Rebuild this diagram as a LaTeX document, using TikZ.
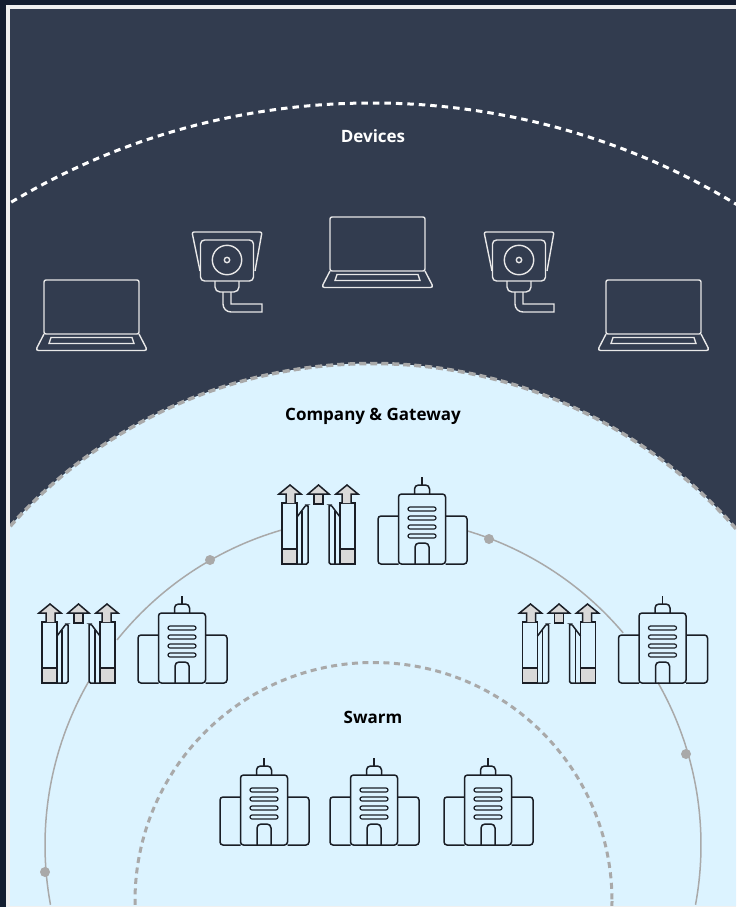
\documentclass[tikz,border=0pt]{standalone}
\usepackage{fontspec}
\setmainfont{Open Sans}
\usepackage{tikz}

\definecolor{outerdark}{HTML}{141E30}
\definecolor{paneldark}{HTML}{323C4F}
\definecolor{lightblue}{HTML}{DCF3FF}
\definecolor{ringgray}{HTML}{A9A9A9}
\definecolor{iconink}{HTML}{1A1E26}
\definecolor{icongray}{HTML}{D9D9D9}
\definecolor{iconwhite}{HTML}{E8E8E8}

\tikzset{
	label text/.style={font=\fontsize{17}{20}\selectfont\bfseries},
	ring dot/.style={circle,fill=ringgray,inner sep=0pt,minimum size=10pt},
	pics/laptop/.style={code={
		\draw[iconwhite,line width=1.4pt,rounded corners=2pt] (-47.5,0) rectangle (47.5,54);
		\draw[iconwhite,line width=1.4pt,rounded corners=3pt] (-47.5,54) -- (-56,70.5) -- (56,70.5) -- (47.5,54);
		\draw[iconwhite,line width=1.4pt] (-40.5,57.5) -- (-42.5,63.5) -- (42.5,63.5) -- (40.5,57.5) -- cycle;
	}},
	pics/camera/.style={code={
		\draw[iconwhite,line width=1.4pt,rounded corners=2pt] (-27,11) -- (-35,-28) -- (35,-28) -- (28,11);
		\draw[iconwhite,line width=1.4pt,fill=paneldark,rounded corners=4pt] (-26.5,-20) rectangle (26.5,21);
		\draw[iconwhite,line width=1.4pt] (0,0) circle (14.7);
		\draw[iconwhite,line width=1.4pt] (0,0) circle (2.7);
		\draw[iconwhite,line width=1.4pt,rounded corners=5pt] (-12,21) -- (-12,32) -- (12,32) -- (12,21);
		\draw[iconwhite,line width=1.4pt] (-4,32) [rounded corners=8pt] -- (-4,52) [sharp corners] -- (35,52) -- (35,44) -- (4,44) -- (4,32);
	}},
	pics/building/.style={code={
		\draw[iconink,line width=1.5pt,rounded corners=3pt] (-23.5,-48) -- (-44,-48) -- (-44,0) -- (-23.5,0);
		\draw[iconink,line width=1.5pt,rounded corners=3pt] (23.5,-48) -- (45,-48) -- (45,0) -- (23.5,0);
		\draw[iconink,line width=1.5pt,rounded corners=3pt] (-23.5,-70) rectangle (23.5,0);
		\draw[iconink,line width=1.5pt,rounded corners=4pt] (-7.5,-70) -- (-7.5,-79) -- (7.5,-79) -- (7.5,-70);
		\draw[iconink,line width=1.5pt] (0,-79) -- (0,-87);
		\draw[iconink,line width=1.2pt,rounded corners=2pt] (-14,-57) rectangle (14,-53);
		\draw[iconink,line width=1.2pt,rounded corners=2pt] (-14,-48) rectangle (14,-44);
		\draw[iconink,line width=1.2pt,rounded corners=2pt] (-14,-39) rectangle (14,-35);
		\draw[iconink,line width=1.2pt,rounded corners=2pt] (-14,-30) rectangle (14,-26);
		\draw[iconink,line width=1.5pt,rounded corners=4pt] (-7,0) -- (-7,-21) -- (7,-21) -- (7,0);
	}},
	pics/gateside/.style={code={
		\draw[iconink,line width=1.5pt] (-36.5,-61) rectangle (-21.5,0);
		\draw[iconink,line width=1.5pt,fill=icongray] (-36.5,-15) rectangle (-21.5,0);
		\draw[iconink,line width=1.5pt,fill=icongray] (-32.5,-61) -- (-32.5,-70) -- (-39.5,-70) -- (-28.5,-79) -- (-17.5,-70) -- (-23.5,-70) -- (-23.5,-61);
		\draw[iconink,line width=1.5pt,rounded corners=1.5pt] (-21.5,-47) -- (-12.5,-59) -- (-10.5,-59) -- (-10.5,0) -- (-21.5,0);
		\draw[iconink,line width=1.5pt] (-16.5,-53) -- (-16.5,0);
	}},
	pics/gate/.style={code={
		\pic at (0,0) {gateside};
		\pic[xscale=-1] at (0,0) {gateside};
		\draw[iconink,line width=1.5pt,fill=icongray] (-4.5,-70) rectangle (4.5,-60);
		\draw[iconink,line width=1.5pt,fill=icongray] (-10.5,-70) -- (0,-79) -- (10.5,-70) -- cycle;
	}}
}

\begin{document}
\begin{tikzpicture}[x=1pt,y=-1pt]
	
	% 固定图幅和外框
	\useasboundingbox (0,0) rectangle (736,907);
	\fill[outerdark] (0,0) rectangle (736,907);
	\fill[white!94!black] (6,5) rectangle (736,907);
	
	\begin{scope}
		\clip (10,9) rectangle (736,905);
		\fill[paneldark] (10,9) rectangle (736,905);
		
		% 绘制同心圆弧
		\draw[white,line width=3pt,dash pattern=on 6.5pt off 5pt] (372,808) circle (705);
		\fill[lightblue] (372,847) circle (483.5);
		\draw[ringgray,line width=3.5pt,dash pattern=on 7pt off 4pt] (372,847) circle (483.5);
		\draw[ringgray,line width=3pt,dash pattern=on 6pt off 4.5pt] (373.5,901) circle (238.5);
		
		% 绘制细圆环的各段
		\draw[ringgray,line width=1.5pt] (373,845) ++(169.5:328) arc[start angle=169.5,end angle=209.8,radius=328];
		\draw[ringgray,line width=1.5pt] (373,845) ++(218.7:328) arc[start angle=218.7,end angle=253.7,radius=328];
		\draw[ringgray,line width=1.5pt] (373,845) ++(286.7:328) arc[start angle=286.7,end angle=319.7,radius=328];
		\draw[ringgray,line width=1.5pt] (373,845) ++(330.3:328) arc[start angle=330.3,end angle=370.5,radius=328];
	\end{scope}
	
	% 圆环上的圆点
	\node[ring dot] (dotA) at (45,872) {};
	\node[ring dot] (dotB) at (210,560) {};
	\node[ring dot] (dotC) at (489,539) {};
	\node[ring dot] (dotD) at (686,754) {};
	
	% 三个标题
	\node[label text,white] (devices) at (373,136) {Devices};
	\node[label text,black] (company) at (373,416) {Company \& Gateway};
	\node[label text,black] (swarm) at (373,717) {Swarm};
	
	% 笔记本和摄像头
	\pic at (91.5,280) {laptop};
	\pic at (227,260) {camera};
	\pic at (377.5,217) {laptop};
	\pic at (519,260) {camera};
	\pic at (653.5,280) {laptop};
	
	% 网关和公司
	\pic at (318.5,564) {gate};
	\pic at (422,564) {building};
	\pic at (78.5,683) {gate};
	\pic at (182,683) {building};
	\pic at (559,683) {gate};
	\pic at (662.5,683) {building};
	
	% 蜂群中的公司
	\pic at (264,845) {building};
	\pic at (374,845) {building};
	\pic at (488,845) {building};
	
\end{tikzpicture}
\end{document}
